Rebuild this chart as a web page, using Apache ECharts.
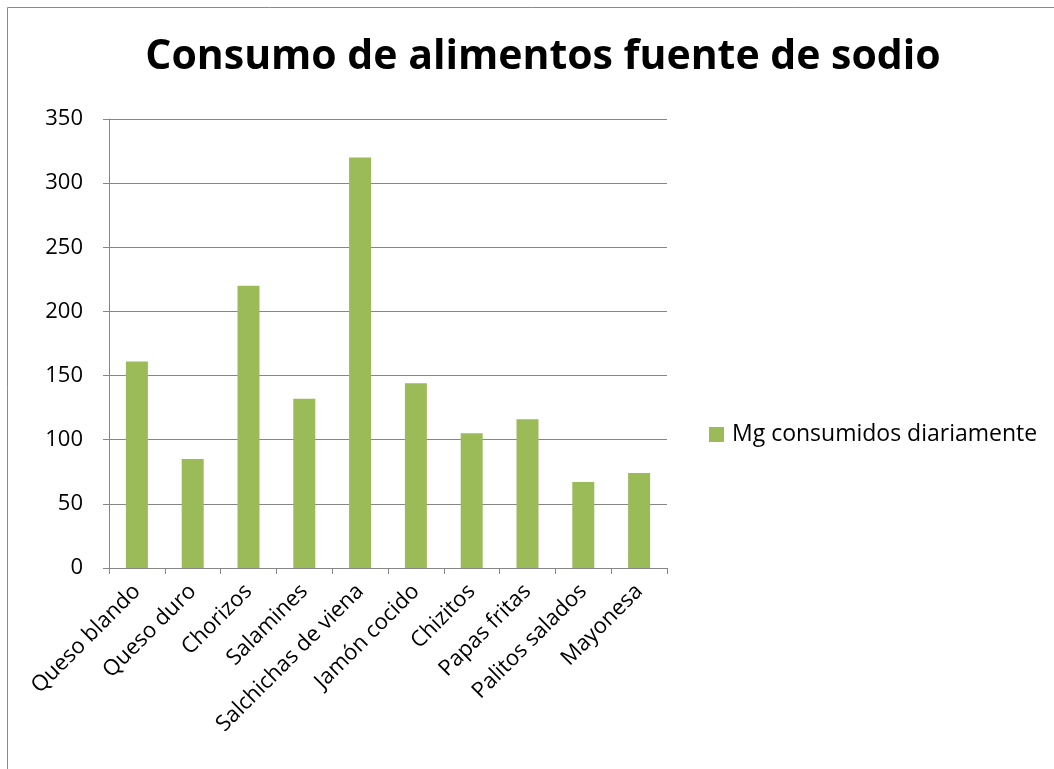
<!DOCTYPE html>
<html>
<head>
<meta charset="utf-8">
<script src="https://cdn.jsdelivr.net/npm/echarts@6/dist/echarts.min.js"></script>
<style>
html,body{margin:0;padding:0;background:#fff;}
#chart{width:1054px;height:769px;}
</style>
</head>
<body>
<div id="chart"></div>
<script>
const title = 'Consumo de alimentos fuente de sodio';
const seriesName = 'Mg consumidos diariamente';
const categories = ['Queso blando','Queso duro','Chorizos','Salamines','Salchichas de viena','Jamón cocido','Chizitos','Papas fritas','Palitos salados','Mayonesa'];
const values = [161, 85, 220, 132, 320, 144, 105, 116, 67, 74];
const yMin = 0, yMax = 350, yInterval = 50;

const FONT = 'Open Sans';
const chart = echarts.init(document.getElementById('chart'), null, {renderer:'canvas'});
chart.setOption({
  backgroundColor:'#fff',
  animation:false,
  title:{
    text:title, left:543, top:37, textAlign:'center', padding:0,
    textStyle:{fontFamily:FONT, fontWeight:'bold', fontSize:41, color:'#000'}
  },
  graphic:[{type:'rect', shape:{x:7.5,y:7.5,width:1100,height:900}, style:{fill:null, stroke:'#8a8a8a', lineWidth:1}, silent:true}],
  legend:{
    data:[seriesName], left:709, top:423, orient:'vertical', padding:0,
    itemWidth:15, itemHeight:15, icon:'rect', itemGap:8,
    textStyle:{fontFamily:FONT, fontSize:23, color:'#000', padding:[0,0,0,3]}
  },
  grid:{left:109, right:387, top:119, bottom:201, containLabel:false},
  xAxis:{
    type:'category', data:categories,
    axisLine:{lineStyle:{color:'#868686', width:1}},
    axisTick:{show:true, length:6, lineStyle:{color:'#868686'}, alignWithLabel:false},
    axisLabel:{rotate:45, fontFamily:FONT, fontSize:22, color:'#000', margin:20, interval:0}
  },
  yAxis:{
    type:'value', min:yMin, max:yMax, interval:yInterval,
    axisLine:{show:true, lineStyle:{color:'#868686', width:1}},
    axisTick:{show:true, inside:false, length:6, lineStyle:{color:'#868686'}},
    splitLine:{lineStyle:{color:'#868686', width:1}},
    axisLabel:{fontFamily:FONT, fontSize:22, color:'#000', margin:26}
  },
  series:[{
    type:'bar', name:seriesName, data:values, barWidth:22,
    itemStyle:{color:'#9BBB59'}
  }]
});
</script>
</body>
</html>
